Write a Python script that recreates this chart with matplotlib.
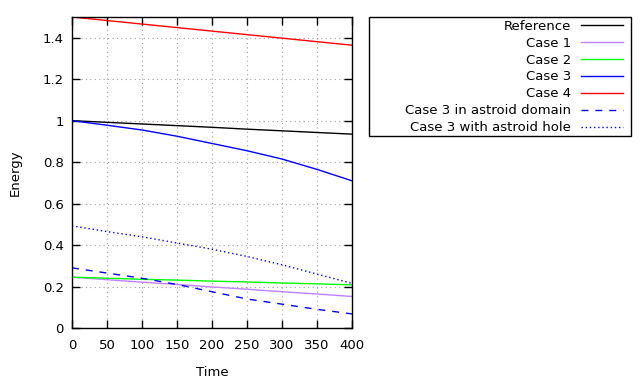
import matplotlib
matplotlib.use("Agg")
import matplotlib.pyplot as plt
from matplotlib.patches import Rectangle
from matplotlib.ticker import FormatStrFormatter, MultipleLocator

# Values
time = [0, 50, 100, 150, 200, 250, 300, 350, 400]
reference = [1.0, 0.992, 0.984, 0.976, 0.968, 0.959, 0.951, 0.943, 0.935]
case1 = [0.245, 0.233, 0.221, 0.210, 0.198, 0.187, 0.175, 0.164, 0.152]
case2 = [0.245, 0.240, 0.235, 0.231, 0.226, 0.222, 0.217, 0.213, 0.208]
case3 = [1.0, 0.978, 0.955, 0.925, 0.89, 0.855, 0.815, 0.765, 0.71]
case4 = [1.5, 1.483, 1.466, 1.449, 1.432, 1.415, 1.398, 1.381, 1.364]
case3_domain = [0.29, 0.265, 0.24, 0.21, 0.175, 0.14, 0.115, 0.09, 0.068]
case3_hole = [0.493, 0.465, 0.44, 0.41, 0.38, 0.345, 0.305, 0.26, 0.215]

plt.rcParams["font.family"] = "DejaVu Sans"
plt.rcParams["font.size"] = 9.5

fig = plt.figure(figsize=(6.4, 3.84), dpi=100)
ax = fig.add_axes([72 / 640, 1 - 328 / 384, 280 / 640, 311 / 384])

ax.plot(time, reference, color="black", lw=1, label="Reference")
ax.plot(time, case1, color="#c080ff", lw=1, label="Case 1")
ax.plot(time, case2, color="#00ff00", lw=1, label="Case 2")
ax.plot(time, case3, color="#0000ff", lw=1, label="Case 3")
ax.plot(time, case4, color="#ff0000", lw=1, label="Case 4")
ax.plot(time, case3_domain, color="#0000ff", lw=1, ls=(0, (5, 5)), label="Case 3 in astroid domain")
ax.plot(time, case3_hole, color="#0000ff", lw=1, ls=(0, (1, 2)), label="Case 3 with astroid hole")

ax.set_xlim(0, 400)
ax.set_ylim(0, 1.5)
ax.xaxis.set_major_locator(MultipleLocator(50))
ax.yaxis.set_major_locator(MultipleLocator(0.2))
ax.yaxis.set_major_formatter(FormatStrFormatter("%g"))
ax.tick_params(direction="in", top=True, right=True, length=6, width=1, pad=6)
ax.tick_params(axis="x", pad=8)
ax.grid(True, color="#a0a0a0", ls=(0, (1, 3)), lw=0.8)
ax.set_xlabel("Time", labelpad=10)
ax.set_ylabel("Energy", labelpad=15)
for s in ax.spines.values():
    s.set_linewidth(1)

# gnuplot-style key: text right-aligned, sample on the right, wide box
leg = fig.legend(loc="upper right", bbox_to_anchor=(630 / 640, 1 - 13 / 384),
                 markerfirst=False, frameon=False,
                 handlelength=3.2, borderpad=0, labelspacing=0.3, handletextpad=0.75)
for t in leg.get_texts():
    t.set_ha("right")
fig.patches.append(Rectangle((369 / 640, 1 - 136 / 384), 262 / 640, 119 / 384,
                             transform=fig.transFigure, fill=False,
                             edgecolor="black", lw=1))

fig.savefig("out.png", dpi=100)
